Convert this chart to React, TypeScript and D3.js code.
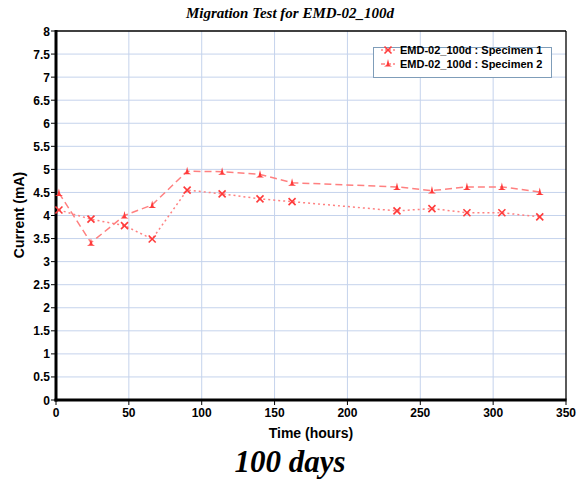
import React from "react";
import * as d3 from "d3";

const hours = [2, 24, 47, 66, 90, 114, 140, 162, 234, 258, 282, 306, 332];
const specimen1 = [4.12, 3.92, 3.78, 3.49, 4.55, 4.47, 4.36, 4.3, 4.1, 4.15, 4.06, 4.06, 3.97];
const specimen2 = [4.49, 3.41, 4.0, 4.23, 4.96, 4.95, 4.89, 4.71, 4.62, 4.54, 4.62, 4.62, 4.51];
const seriesNames = ["EMD-02_100d : Specimen 1", "EMD-02_100d : Specimen 2"];
const xTicks = [0, 50, 100, 150, 200, 250, 300, 350];
const yTicks = [0, 0.5, 1, 1.5, 2, 2.5, 3, 3.5, 4, 4.5, 5, 5.5, 6, 6.5, 7, 7.5, 8];

const W = 581, H = 480;
const L = 56, R = 566, T = 31, B = 400;
const RED = "#ff3b3b";

function XMark({ x, y }: { x: number; y: number }) {
  const s = 3.5;
  return (
    <g stroke={RED} strokeWidth={1.6}>
      <line x1={x - s} y1={y - s} x2={x + s} y2={y + s} />
      <line x1={x - s} y1={y + s} x2={x + s} y2={y - s} />
    </g>
  );
}
function TriMark({ x, y }: { x: number; y: number }) {
  return (
    <g>
      <path d={`M${x},${y - 4.5} L${x + 1.5},${y + 1.5} L${x + 4},${y + 3} L${x - 4},${y + 3} L${x - 1.5},${y + 1.5} Z`} fill={RED} />
    </g>
  );
}

export default function App() {
  const x = d3.scaleLinear().domain([0, 350]).range([L, R]);
  const y = d3.scaleLinear().domain([0, 8]).range([B, T]);
  const line = d3.line<number>().x((_, i) => x(hours[i])).y((d) => y(d));
  const s1 = line(specimen1) || "";
  const s2 = line(specimen2) || "";
  return (
    <svg width={W} height={H} style={{ position: "absolute", left: 0, top: 0, background: "#fff" }}
      fontFamily="Liberation Sans, Arial, sans-serif">
      <rect x={0} y={0} width={W} height={H} fill="#fff" />
      <text x={290} y={18} textAnchor="middle" fontFamily="Liberation Serif, Times New Roman, serif"
        fontStyle="italic" fontWeight="bold" fontSize={15}>Migration Test for EMD-02_100d</text>
      {/* grid */}
      {yTicks.slice(1, -1).map((t) => (
        <line key={"gy" + t} x1={L} x2={R} y1={y(t)} y2={y(t)} stroke="#c5d3ec" strokeWidth={1} />
      ))}
      {xTicks.slice(1, -1).map((t) => (
        <line key={"gx" + t} x1={x(t)} x2={x(t)} y1={T} y2={B} stroke="#c5d3ec" strokeWidth={1} />
      ))}
      {/* frame */}
      <line x1={L} x2={R} y1={T} y2={T} stroke="#000" strokeWidth={1.3} />
      <line x1={R} x2={R} y1={T} y2={B} stroke="#000" strokeWidth={1.3} />
      <line x1={L} x2={L} y1={T - 1} y2={B + 1.5} stroke="#000" strokeWidth={3} />
      <line x1={L - 1.5} x2={R + 0.5} y1={B} y2={B} stroke="#000" strokeWidth={3} />
      {/* y ticks */}
      {yTicks.map((t) => (
        <g key={"yt" + t}>
          <line x1={L - 5} x2={L} y1={y(t)} y2={y(t)} stroke="#000" strokeWidth={1} />
          <text x={L - 6} y={y(t) + 4.5} textAnchor="end" fontWeight="bold" fontSize={12}>{t}</text>
        </g>
      ))}
      {xTicks.map((t) => (
        <g key={"xt" + t}>
          <line x1={x(t)} x2={x(t)} y1={B} y2={B + 5} stroke="#000" strokeWidth={1} />
          <text x={x(t)} y={B + 17} textAnchor="middle" fontWeight="bold" fontSize={12}>{t}</text>
        </g>
      ))}
      <text x={311} y={438} textAnchor="middle" fontWeight="bold" fontSize={14}>Time (hours)</text>
      <text transform={`translate(24,${215}) rotate(-90)`} textAnchor="middle" fontWeight="bold" fontSize={14}>Current (mA)</text>
      {/* series */}
      <path d={s1} fill="none" stroke="#ff8080" strokeWidth={1.5} strokeDasharray="2,3" />
      <path d={s2} fill="none" stroke="#ff8080" strokeWidth={1.5} strokeDasharray="7,4" />
      {specimen1.map((v, i) => <XMark key={"m1" + i} x={x(hours[i])} y={y(v)} />)}
      {specimen2.map((v, i) => <TriMark key={"m2" + i} x={x(hours[i])} y={y(v)} />)}
      {/* legend */}
      <rect x={373.5} y={47.5} width={178} height={30} fill="#fff" stroke="#7f9db9" strokeWidth={1} />
      <line x1={381} x2={395} y1={50} y2={50} stroke="#ff8080" strokeWidth={1.5} strokeDasharray="2,2" transform="translate(0,0)" />
      <XMark x={388} y={50} />
      <line x1={381} x2={395} y1={64} y2={64} stroke="#ff8080" strokeWidth={1.5} strokeDasharray="4,2" />
      <TriMark x={388} y={63.5} />
      <text x={400} y={54} fontWeight="bold" fontSize={11}>{seriesNames[0]}</text>
      <text x={400} y={68} fontWeight="bold" fontSize={11}>{seriesNames[1]}</text>
      <text x={290} y={472} textAnchor="middle" fontFamily="Liberation Serif, Times New Roman, serif"
        fontStyle="italic" fontWeight="bold" fontSize={31}>100 days</text>
    </svg>
  );
}
